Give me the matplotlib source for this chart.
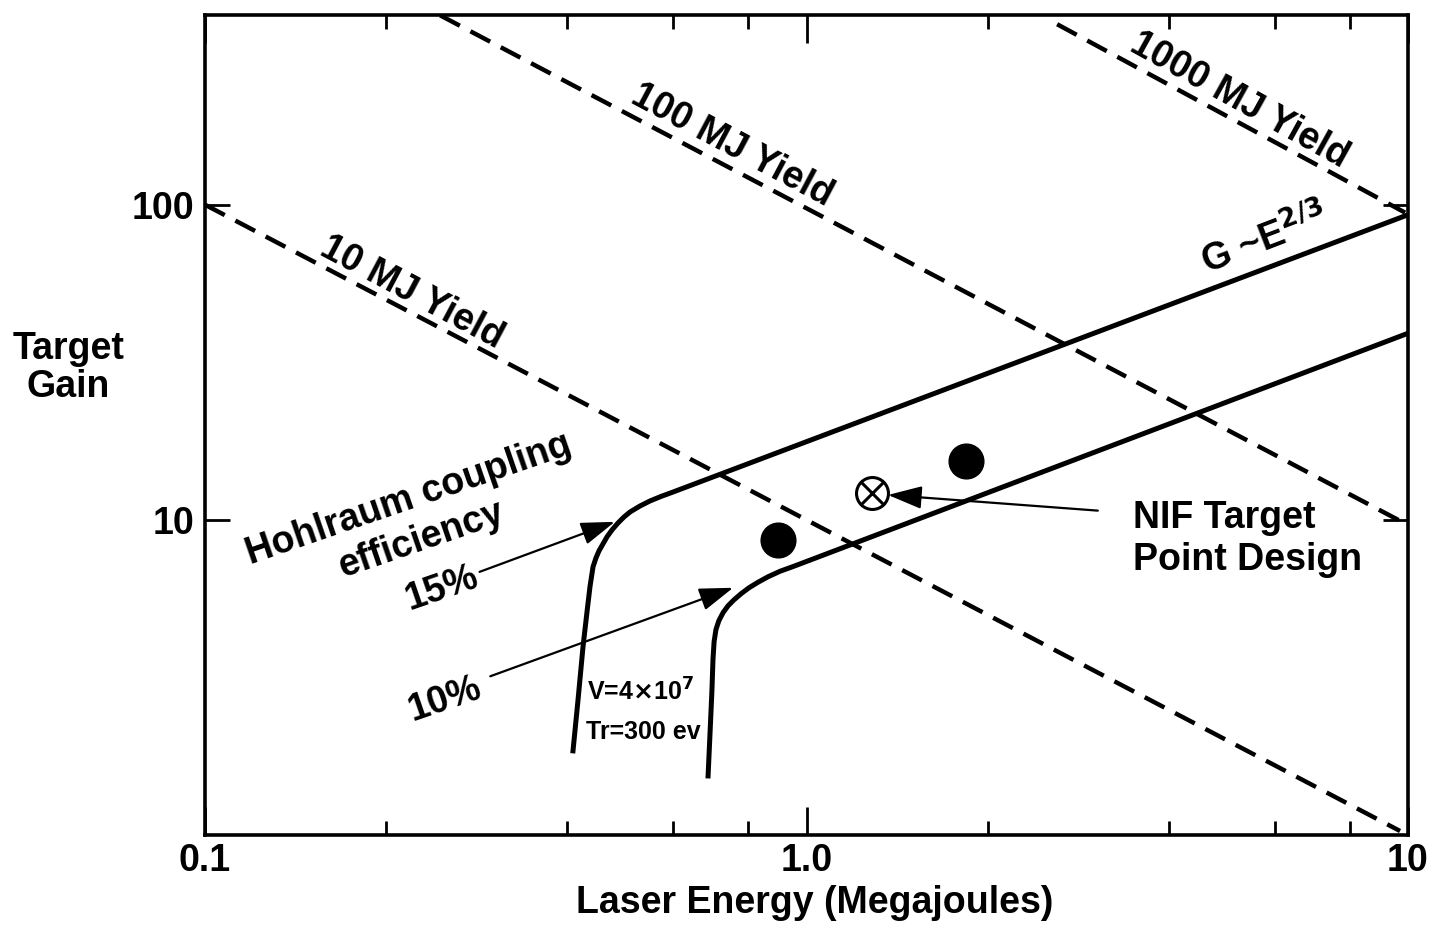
import matplotlib
matplotlib.use("Agg")
import matplotlib.pyplot as plt
from matplotlib.ticker import FixedLocator, NullFormatter, NullLocator

plt.rcParams['font.family'] = ['Liberation Sans', 'DejaVu Sans']
plt.rcParams['font.weight'] = 'bold'

# hohlraum coupling curves (laser energy MJ, target gain)
energy_15 = [0.409, 0.417, 0.425, 0.4316, 0.4365, 0.4416, 0.4467, 0.4519, 0.4589, 0.466,
             0.475, 0.486, 0.4973, 0.509, 0.5287, 0.549, 0.5729, 0.600, 9.89]
gain_15 = [1.85, 2.69, 3.96, 5.12, 6.14, 7.10, 7.58, 7.98, 8.40, 8.84,
           9.30, 9.78, 10.22, 10.60, 11.07, 11.48, 11.87, 12.26, 92.2]

energy_10 = [0.686, 0.691, 0.696, 0.699, 0.702, 0.707, 0.715, 0.7266, 0.7406, 0.7578,
             0.7783, 0.8023, 0.8305, 0.863, 0.9035, 0.957, 10.0]
gain_10 = [1.54, 2.09, 2.84, 3.61, 4.11, 4.49, 4.79, 5.08, 5.34, 5.58,
           5.83, 6.09, 6.34, 6.60, 6.87, 7.15, 39.1]

# constant yield lines (end points)
yield_labels = ["10 MJ Yield", "100 MJ Yield", "1000 MJ Yield"]
yield_energy = [[0.1, 9.7], [0.246, 9.77], [2.61, 9.89]]
yield_gain = [[100, 1.03], [399, 9.86], [374, 94.4]]

# design points
point_energy = [0.897, 1.84]
point_gain = [8.64, 15.4]
nif_energy = [1.285]
nif_gain = [12.2]

x_ticks = [0.1, 1.0, 10]
x_tick_labels = ["0.1", "1.0", "10"]
x_minor = [0.2, 0.4, 0.6, 0.8, 2, 4, 6, 8]
y_ticks = [10, 100]
y_tick_labels = ["10", "100"]

fs = 27

fig = plt.figure(figsize=(14.36, 9.27), dpi=100)
ax = fig.add_axes([0.1428, 0.0992, 0.8377, 0.8846])
ax.set_xscale('log')
ax.set_yscale('log')
ax.set_xlim(0.1, 10)
ax.set_ylim(1.0, 400)

for e, g in zip(yield_energy, yield_gain):
    ax.plot(e, g, color='black', lw=3.2, linestyle=(0, (5, 2.7)), solid_capstyle='butt')

ax.plot(energy_15, gain_15, color='black', lw=3.6, solid_joinstyle='round')
ax.plot(energy_10, gain_10, color='black', lw=3.6, solid_joinstyle='round')

ax.plot(point_energy, point_gain, 'o', color='black', markersize=25, linestyle='none')
ax.plot(nif_energy, nif_gain, 'o', markerfacecolor='white', markeredgecolor='black',
        markersize=23, markeredgewidth=2.2, linestyle='none')
ax.plot(nif_energy, nif_gain, 'x', color='black', markersize=16, markeredgewidth=2.2,
        linestyle='none')

arrow = dict(arrowstyle='-|>,head_length=0.95,head_width=0.32', color='black', lw=1.6,
             mutation_scale=22, shrinkA=0, shrinkB=0)
ax.annotate("", xy=(0.480, 9.86), xytext=(0.286, 6.84), arrowprops=arrow)
ax.annotate("", xy=(0.755, 6.09), xytext=(0.298, 3.19), arrowprops=arrow)
ax.annotate("", xy=(1.366, 12.0), xytext=(3.05, 10.7), arrowprops=arrow)

# text labels
tk = dict(transform=ax.transAxes, ha='center', va='center', fontsize=fs, fontweight='bold')
ax.text(0.172, 0.662, yield_labels[0], rotation=-28, **tk)
ax.text(0.438, 0.841, yield_labels[1], rotation=-28, **tk)
ax.text(0.860, 0.896, yield_labels[2], rotation=-29, **tk)
ax.text(0.881, 0.726, r"G ~E$^{\mathbf{2/3}}$", rotation=21, **tk)
ax.text(0.169, 0.409, "Hohlraum coupling", rotation=19, **tk)
ax.text(0.180, 0.360, "efficiency", rotation=19, **tk)
ax.text(0.197, 0.301, "15%", rotation=19, **tk)
ax.text(0.1995, 0.165, "10%", rotation=19, **tk)
ax.text(0.867, 0.361, "NIF Target\nPoint Design", multialignment='left', linespacing=1.2, **tk)
ax.text(0.3616, 0.174, r"V=4$\times$10$^{\mathbf{7}}$", transform=ax.transAxes, ha='center',
        va='center', fontsize=18, fontweight='bold')
ax.text(0.364, 0.126, "Tr=300 ev", transform=ax.transAxes, ha='center', va='center',
        fontsize=18, fontweight='bold')

fig.text(0.0474, 0.6030, "Target\nGain", ha='center', va='center', fontsize=fs,
         fontweight='bold', linespacing=1.05)
fig.text(0.5675, 0.0259, "Laser Energy (Megajoules)", ha='center', va='center',
         fontsize=fs, fontweight='bold')

# ticks
ax.xaxis.set_major_locator(FixedLocator(x_ticks))
ax.set_xticklabels(x_tick_labels)
ax.xaxis.set_minor_locator(FixedLocator(x_minor))
ax.xaxis.set_minor_formatter(NullFormatter())
ax.yaxis.set_major_locator(FixedLocator(y_ticks))
ax.set_yticklabels(y_tick_labels)
ax.yaxis.set_minor_locator(NullLocator())
ax.tick_params(axis='x', which='major', direction='in', length=20, width=2, top=True,
               labelsize=fs, pad=6)
ax.tick_params(axis='x', which='minor', direction='in', length=10, width=2, top=True)
ax.tick_params(axis='y', which='major', direction='in', length=18, width=2, right=True,
               labelsize=fs, pad=8)
for lab in ax.get_xticklabels() + ax.get_yticklabels():
    lab.set_fontweight('bold')

for s in ax.spines.values():
    s.set_linewidth(2.6)

fig.savefig("out.png", dpi=100)
